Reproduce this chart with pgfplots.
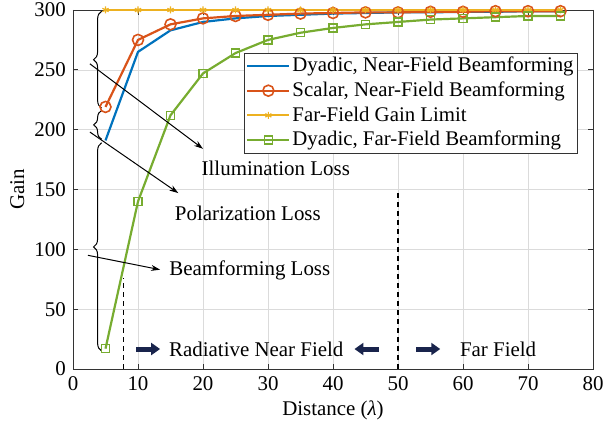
\documentclass[border=0pt]{standalone}
\usepackage{pgfplots}
\pgfplotsset{compat=1.18}
\usepackage{fontspec}
\setmainfont{Liberation Serif}
\usetikzlibrary{decorations.pathreplacing,arrows.meta}
\definecolor{mblue}{rgb}{0,0.447,0.741}
\definecolor{mred}{rgb}{0.85,0.325,0.098}
\definecolor{myel}{rgb}{0.929,0.694,0.125}
\definecolor{mgreen}{rgb}{0.466,0.674,0.188}
\definecolor{navyarr}{rgb}{0.10,0.14,0.30}
\begin{document}
\fontsize{21}{25}\selectfont
\begin{tikzpicture}
\begin{axis}[
  name=ax,
  scale only axis, width=520bp, height=359bp,
  xmin=0, xmax=80, ymin=0, ymax=300,
  xtick={0,10,...,80}, ytick={0,50,...,300},
  tick align=inside, major tick length=5bp,
  grid=major, grid style={gray!28, line width=0.6pt},
  axis line style={black!80, line width=0.8pt},
  tick style={black!80, line width=0.8pt},
  /pgf/number format/assume math mode=true,
  ticklabel style={font=\fontsize{21}{25}\selectfont},
  label style={font=\fontsize{21}{25}\selectfont},
  xlabel={Distance (\textit{λ})}, ylabel={Gain},
  xlabel style={yshift=4bp}, ylabel style={yshift=-4bp},
  clip=false,
  legend style={at={(0.971,0.881)}, anchor=north east, font=\fontsize{20.9}{24}\selectfont,
    draw=black!80, line width=0.6pt, inner sep=2pt, row sep=3pt,
    legend cell align=left},
  legend image code/.code={\draw[mark repeat=2,mark phase=2,#1] plot coordinates {(0bp,0bp) (21bp,0bp) (42bp,0bp)};},
]
\addplot[mblue, line width=2.2pt] coordinates {
(5,191) (10,265) (15,283) (20,290) (25,293) (30,295) (35,296) (40,297) (45,297.5) (50,298) (55,298) (60,298.5) (65,298.5) (70,299) (75,299)};
\addlegendentry{Dyadic, Near-Field Beamforming}
\addplot[mred, line width=2.2pt, mark=o, mark size=5.5bp, mark options={line width=1.6pt}] coordinates {
(5,219) (10,275) (15,288) (20,293) (25,295) (30,296) (35,297) (40,297.5) (45,298) (50,298) (55,298.5) (60,298.5) (65,299) (70,299) (75,299)};
\addlegendentry{Scalar, Near-Field Beamforming}
\addplot[myel, line width=2.2pt, mark=asterisk, mark size=3.5bp, mark options={line width=1.2pt}] coordinates {
(5,300) (10,300) (15,300) (20,300) (25,300) (30,300) (35,300) (40,300) (45,300) (50,300) (55,300) (60,300) (65,300) (70,300) (75,300)};
\addlegendentry{Far-Field Gain Limit}
\addplot[mgreen, line width=2.2pt, mark=square, mark size=4bp, mark options={line width=1.4pt}] coordinates {
(5,17) (10,140) (15,212) (20,247) (25,264) (30,275) (35,281) (40,285) (45,288) (50,290) (55,292) (60,293) (65,294) (70,295) (75,295)};
\addlegendentry{Dyadic, Far-Field Beamforming}
% dashed boundaries
\draw[line width=1.2pt, dash pattern=on 5bp off 4bp] (axis cs:7.8,0) -- (axis cs:7.8,76);
\draw[line width=1.2pt, dash pattern=on 5bp off 4bp] (axis cs:50,0) -- (axis cs:50,147);
% braces
\draw[decorate, decoration={brace, amplitude=8bp, aspect=0.5}, line width=1pt] (axis cs:4.4,218) -- (axis cs:4.4,299);
\draw[decorate, decoration={brace, amplitude=8bp, aspect=0.5}, line width=1pt] (axis cs:4.4,192) -- (axis cs:4.4,216);
\draw[decorate, decoration={brace, amplitude=8bp, aspect=0.5}, line width=1pt] (axis cs:4.4,15) -- (axis cs:4.4,189);
% loss arrows
\draw[-{Stealth[length=9bp,width=6bp]}, line width=1pt] (axis cs:2.6,255) -- (axis cs:20,184);
\draw[-{Stealth[length=9bp,width=6bp]}, line width=1pt] (axis cs:2.6,198) -- (axis cs:16.2,147);
\draw[-{Stealth[length=9bp,width=6bp]}, line width=1pt] (axis cs:2.3,95) -- (axis cs:13.4,83);
\node at (axis cs:31.2,168) {Illumination Loss};
\node at (axis cs:26.9,130) {Polarization Loss};
\node at (axis cs:27.2,82.5) {Beamforming Loss};
% region arrows
\draw[-{Triangle[length=9bp,width=12bp]}, line width=5bp, navyarr] (axis cs:9.7,16.7) -- (axis cs:13.4,16.7);
\draw[-{Triangle[length=9bp,width=12bp]}, line width=5bp, navyarr] (axis cs:47,16.7) -- (axis cs:43.3,16.7);
\draw[-{Triangle[length=9bp,width=12bp]}, line width=5bp, navyarr] (axis cs:52.8,16.7) -- (axis cs:56.5,16.7);
\node at (axis cs:28.2,16.7) {Radiative Near Field};
\node at (axis cs:65.4,16.7) {Far Field};
\end{axis}
\pgfresetboundingbox
\path[use as bounding box] ([shift={(-73bp,-63bp)}]ax.south west) rectangle ([shift={(10bp,10bp)}]ax.north east);
\end{tikzpicture}
\end{document}
